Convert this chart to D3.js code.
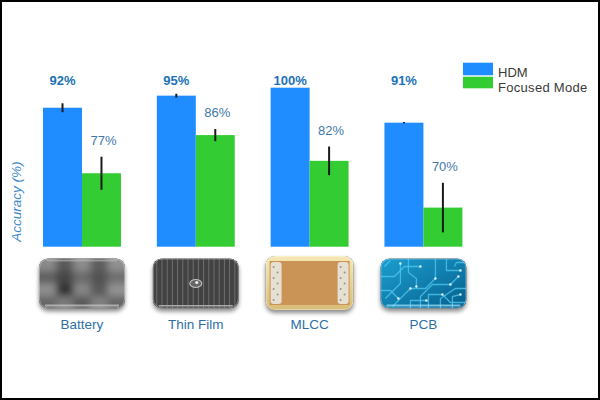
<!DOCTYPE html>
<html><head><meta charset="utf-8">
<script src="https://cdn.jsdelivr.net/npm/d3@7"></script>
<style>html,body{margin:0;padding:0;background:#fff;overflow:hidden}svg{display:block;font-family:Arial,"Liberation Sans",sans-serif}</style>
</head><body><svg id="c" width="600" height="400"></svg>
<script>
// ---- data ----
const categories = ["Battery", "Thin Film", "MLCC", "PCB"];
const seriesNames = ["HDM", "Focused Mode"];
const hdmValues = [93.7, 97.5, 100, 89.0];
const focusedValues = [73.1, 85.1, 77.0, 62.3];
const hdmErrors = [1.4, 0.6, 0, 0.2];
const focusedErrors = [5.2, 1.9, 4.5, 7.8];
const hdmLabels = ["92%", "95%", "100%", "91%"];
const focusedLabels = ["77%", "86%", "82%", "70%"];
const yDomain = [50, 100];
const yTitle = "Accuracy (%)";

// ---- style ----
const colors = ["#1f8cff", "#33cc33"];
const svg = d3.select("#c");
const W = 600, H = 400;
const baseY = 246.7, topY = 87.7;

const x0 = d3.scaleBand().domain(categories).range([43, 462.4]).paddingInner(0.315).paddingOuter(0);
const x1 = d3.scaleBand().domain(seriesNames).range([0, x0.bandwidth()]);
const y = d3.scaleLinear().domain(yDomain).range([baseY, topY]);
const color = d3.scaleOrdinal().domain(seriesNames).range(colors);

const rows = categories.map((c, i) => ({
  cat: c,
  vals: [
    {s: seriesNames[0], v: hdmValues[i], e: hdmErrors[i], lab: hdmLabels[i]},
    {s: seriesNames[1], v: focusedValues[i], e: focusedErrors[i], lab: focusedLabels[i]}
  ]
}));

const defs = svg.append("defs");
const shadow = defs.append("filter").attr("id", "sh").attr("x", "-20%").attr("y", "-20%").attr("width", "140%").attr("height", "150%");
shadow.append("feDropShadow").attr("dx", 0).attr("dy", 3).attr("stdDeviation", 2).attr("flood-color", "#000").attr("flood-opacity", 0.45);
defs.append("filter").attr("id", "blur").attr("x", "-30%").attr("y", "-30%").attr("width", "160%").attr("height", "160%")
  .append("feGaussianBlur").attr("stdDeviation", 3.5);

// bars
const g = svg.append("g");
const grp = g.selectAll("g.cat").data(rows).join("g").attr("class", "cat")
  .attr("transform", d => `translate(${x0(d.cat)},0)`);
grp.selectAll("rect").data(d => d.vals).join("rect")
  .attr("x", d => x1(d.s)).attr("width", x1.bandwidth())
  .attr("y", d => y(d.v)).attr("height", d => baseY - y(d.v))
  .attr("fill", d => color(d.s));
grp.selectAll("line.err").data(d => d.vals.filter(v => v.e > 0)).join("line").attr("class", "err")
  .attr("x1", d => x1(d.s) + x1.bandwidth() / 2).attr("x2", d => x1(d.s) + x1.bandwidth() / 2)
  .attr("y1", d => y(d.v + d.e)).attr("y2", d => y(d.v - d.e))
  .attr("stroke", "#1a1a1a").attr("stroke-width", 2);

// value labels
grp.append("text").text(d => d.vals[0].lab)
  .attr("x", x1(seriesNames[0]) + x1.bandwidth() / 2).attr("y", 85.3)
  .attr("text-anchor", "middle").attr("font-size", 13).attr("font-weight", "bold").attr("fill", "#1b72b8");
grp.append("text").text(d => d.vals[1].lab)
  .attr("x", x1(seriesNames[1]) + x1.bandwidth() / 2 + 2)
  .attr("y", d => y(d.vals[1].v + d.vals[1].e) - 12)
  .attr("text-anchor", "middle").attr("font-size", 13).attr("fill", "#3f79ab");

// y title
svg.append("text").text(yTitle)
  .attr("transform", "translate(21,201.7) rotate(-90)")
  .attr("text-anchor", "middle").attr("font-size", 13.5).attr("font-style", "italic").attr("fill", "#3b88c9");

// legend
const leg = svg.append("g").attr("transform", "translate(463,62.7)");
seriesNames.forEach((s, i) => {
  leg.append("rect").attr("x", 0).attr("y", i * 14).attr("width", 30).attr("height", i ? 11.6 : 12.6).attr("fill", color(s));
  leg.append("text").text(s).attr("x", 35).attr("y", i * 15 + 14).attr("font-size", 13)
    .attr("letter-spacing", i ? 0.3 : 0).attr("fill", "#3a3a3a");
});

// thumbnails
const tw = 86, th = 50, ty = 258.5;
categories.forEach((c, i) => {
  const cx = x0(c) + x0.bandwidth() / 2;
  const big = c === "MLCC";
  const w = big ? 88 : tw, h = big ? 54 : th;
  const tx = cx - w / 2, tyy = big ? ty - 2.5 : ty;
  const t = svg.append("g").attr("transform", `translate(${tx},${tyy})`);
  const cid = "clip" + i;
  defs.append("clipPath").attr("id", cid).append("rect").attr("width", w).attr("height", h).attr("rx", 9);
  t.append("rect").attr("width", w).attr("height", h).attr("rx", 9).attr("fill", "#555").attr("filter", "url(#sh)");
  const inner = t.append("g").attr("clip-path", `url(#${cid})`);
  if (c === "Battery") {
    inner.append("rect").attr("width", w).attr("height", h).attr("fill", "#6a6a6a");
    const shades = [["#8a8a8a","#5a5a5a","#8c8c8c","#5e5e5e","#909090"],
                    ["#5f5f5f","#474747","#6a6a6a","#525252","#6e6e6e"],
                    ["#8e8e8e","#333333","#858585","#5a5a5a","#929292"],
                    ["#666","#7a7a7a","#5a5a5a","#808080","#666"]];
    const bl = inner.append("g").attr("filter", "url(#blur)");
    shades.forEach((row, r) => row.forEach((col, k) => {
      bl.append("rect").attr("x", k * w / 5 - (k === 0 ? 12 : 0)).attr("y", r * h / 4 - (r === 0 ? 12 : 0))
        .attr("width", w / 5 + (k === 0 || k === 4 ? 12 : 0)).attr("height", h / 4 + (r === 0 || r === 3 ? 12 : 0)).attr("fill", col);
    }));
    inner.append("rect").attr("x", 6).attr("y", h - 4).attr("width", w - 12).attr("height", 2).attr("fill", "#ccc").attr("opacity", 0.7);
    inner.append("rect").attr("x", 8).attr("y", 1.5).attr("width", w - 16).attr("height", 1.5).attr("fill", "#bbb").attr("opacity", 0.6);
  } else if (c === "Thin Film") {
    inner.append("rect").attr("width", w).attr("height", h).attr("fill", "#424242");
    d3.range(4, w, 5.2).forEach(xx => inner.append("line").attr("x1", xx).attr("x2", xx).attr("y1", 0).attr("y2", h)
      .attr("stroke", "#999").attr("stroke-width", 0.8).attr("opacity", 0.65));
    inner.append("ellipse").attr("cx", w / 2).attr("cy", h / 2).attr("rx", 6).attr("ry", 4).attr("fill", "#666").attr("stroke", "#bbb").attr("stroke-width", 1.2);
    inner.append("circle").attr("cx", w / 2 + 1).attr("cy", h / 2 - 1).attr("r", 1.6).attr("fill", "#eee");
    inner.append("rect").attr("x", 6).attr("y", h - 3.5).attr("width", w - 12).attr("height", 1.5).attr("fill", "#aaa");
  } else if (c === "MLCC") {
    const gg = defs.append("linearGradient").attr("id", "gold").attr("x1", 0).attr("y1", 0).attr("x2", 0).attr("y2", 1);
    gg.append("stop").attr("offset", 0).attr("stop-color", "#f6e8b4");
    gg.append("stop").attr("offset", 1).attr("stop-color", "#d8bd78");
    inner.append("rect").attr("width", w).attr("height", h).attr("fill", "url(#gold)");
    inner.append("rect").attr("x", 4).attr("y", 5).attr("width", w - 8).attr("height", h - 10).attr("fill", "#c99455");
    [[5, 11], [w - 16, 11]].forEach(([xx, ww]) => {
      inner.append("rect").attr("x", xx).attr("y", 6).attr("width", ww).attr("height", h - 12).attr("rx", 3).attr("fill", "#e6e0d2");
      d3.range(7).forEach(k => inner.append("circle").attr("cx", xx + 3 + (k % 2) * 4).attr("cy", 11 + k * 5.5).attr("r", 1).attr("fill", "#9a958a"));
    });
  } else {
    const pg = defs.append("linearGradient").attr("id", "pcb").attr("x1", 0).attr("y1", 0).attr("x2", 1).attr("y2", 1);
    pg.append("stop").attr("offset", 0).attr("stop-color", "#1b9ed0");
    pg.append("stop").attr("offset", 1).attr("stop-color", "#075f8c");
    inner.append("rect").attr("width", w).attr("height", h).attr("fill", "url(#pcb)");
    const paths = ["M5,40 L20,25 L20,5", "M12,48 L30,30 L45,30 L55,20 L55,0", "M40,50 L40,38 L52,26 L70,26 L78,18",
      "M60,50 L60,40 L75,30 L86,30", "M0,18 L14,18 L24,8 L40,8", "M66,0 L66,12 L80,12", "M30,50 L30,42 L46,42",
      "M48,50 L48,36 L62,36 L70,44 L86,44", "M0,32 L10,32 L18,40", "M72,50 L72,38 L80,36", "M28,0 L28,14 L36,20 L36,28",
      "M4,8 L10,2", "M84,4 L76,4 L74,8"];
    paths.forEach(p => inner.append("path").attr("d", p).attr("fill", "none").attr("stroke", "#4cc6ee").attr("stroke-width", 1.3).attr("opacity", 0.8));
    [[20,5],[55,20],[78,18],[40,8],[80,12],[46,42],[18,40],[62,36],[70,26],[30,30],[36,28],[80,36]].forEach(([a, b]) =>
      inner.append("circle").attr("cx", a).attr("cy", b).attr("r", 1.2).attr("fill", "#e8fbff"));
    inner.append("rect").attr("x", 6).attr("y", h - 4).attr("width", w - 12).attr("height", 2).attr("fill", "#9fe6ff").attr("opacity", 0.7);
  }
  t.append("rect").attr("x", 0.5).attr("y", 0.5).attr("width", w - 1).attr("height", h - 1).attr("rx", 9)
    .attr("fill", "none").attr("stroke", "#fff").attr("stroke-opacity", 0.35);
  svg.append("text").text(c).attr("x", cx).attr("y", 329).attr("text-anchor", "middle")
    .attr("font-size", 13.5).attr("fill", "#2e6fa6");
});

// frame
svg.append("rect").attr("x", 1).attr("y", 1).attr("width", W - 2).attr("height", H - 2)
  .attr("fill", "none").attr("stroke", "#000").attr("stroke-width", 2);
</script></body></html>
